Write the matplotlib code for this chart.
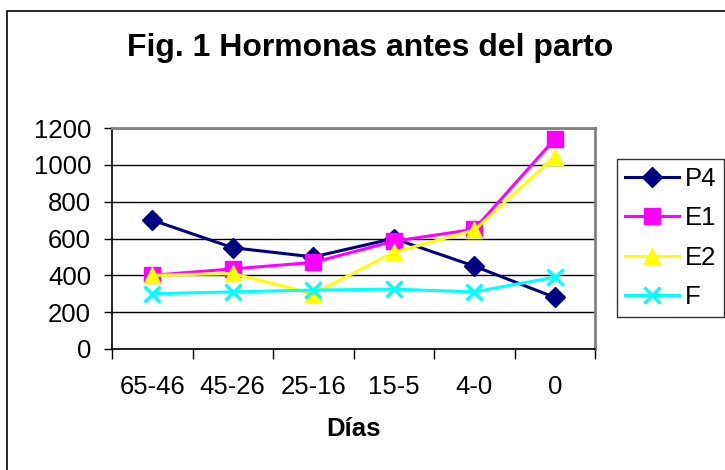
"""
Fig. 1 Hormonas antes del parto - line chart in the old Excel look
"""

import matplotlib
matplotlib.use("Agg")
import matplotlib.pyplot as plt
from matplotlib.patches import Rectangle

plt.rcParams["font.family"] = ["Liberation Sans", "DejaVu Sans"]

DIAS = ["65-46", "45-26", "25-16", "15-5", "4-0", "0"]
P4 = [700, 550, 500, 600, 450, 280]
E1 = [400, 435, 470, 585, 650, 1140]
E2 = [400, 410, 300, 525, 645, 1045]
F = [300, 310, 320, 325, 310, 390]
Y_TICKS = [0, 200, 400, 600, 800, 1000, 1200]

SERIES = [
    ("P4", P4, "#000080", "D", 10),
    ("E1", E1, "#ff00ff", "s", 12),
    ("E2", E2, "#ffff00", "^", 12),
    ("F", F, "#00ffff", "x", 12),
]

FS = 18.5


def main():
    fig = plt.figure(figsize=(7.25, 4.7), dpi=100)
    # outer chart frame
    fig.patches.append(Rectangle((7 / 725, -0.05), 1.0, 1 - 11 / 470 + 0.05,
                                 transform=fig.transFigure, fill=False,
                                 edgecolor="black", linewidth=1.2))

    ax = fig.add_axes([112 / 725, 1 - 349 / 470, 483 / 725, 221 / 470])
    x = list(range(len(DIAS)))
    for name, vals, col, mk, ms in SERIES:
        ax.plot(x, vals, color=col, lw=2.2, marker=mk, ms=ms, mew=2.4 if mk == "x" else 1,
                mfc=col, mec=col, label=name, clip_on=False, zorder=3)

    ax.set_ylim(0, 1200)
    ax.set_yticks(Y_TICKS)
    ax.set_xlim(-0.5, len(DIAS) - 0.5)
    ax.set_xticks([i - 0.5 for i in range(len(DIAS) + 1)])
    ax.set_xticklabels([])
    ax.set_xticks(x, minor=True)
    ax.set_xticklabels(DIAS, minor=True)
    ax.tick_params(axis="x", which="minor", length=0, pad=19, labelsize=FS)
    ax.tick_params(axis="x", which="major", length=7, width=1, direction="out")
    ax.tick_params(axis="y", length=6, width=1, direction="out", labelsize=FS, pad=9)
    ax.grid(axis="y", color="black", lw=1)
    ax.set_axisbelow(True)
    for side in ("top", "right"):
        ax.spines[side].set_color("#808080")
        ax.spines[side].set_linewidth(2)
    for side in ("left", "bottom"):
        ax.spines[side].set_linewidth(1.2)

    ax.set_xlabel("Días", fontsize=FS, fontweight="bold", labelpad=13)
    fig.text(370 / 725, 1 - 48 / 470, "Fig. 1 Hormonas antes del parto",
             ha="center", va="center", fontsize=23, fontweight="bold")

    leg = ax.legend(loc="upper left", bbox_to_anchor=(617 / 725, 1 - 159 / 470),
                    bbox_transform=fig.transFigure, fontsize=FS, frameon=True,
                    fancybox=False, edgecolor="black", handlelength=2.1,
                    labelspacing=0.6, borderpad=0.3, handletextpad=0.25,
                    borderaxespad=0)
    leg.get_frame().set_linewidth(1)

    fig.savefig("out.png", dpi=100)
    plt.close(fig)


if __name__ == "__main__":
    main()
